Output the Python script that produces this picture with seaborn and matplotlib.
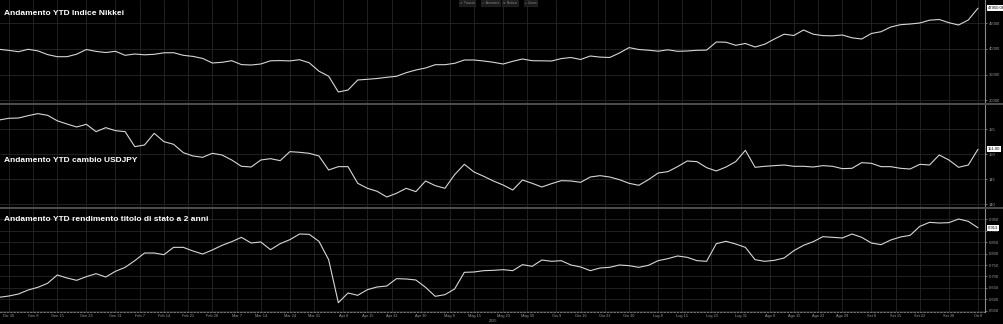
import numpy as np
import pandas as pd
import matplotlib
matplotlib.use("Agg")
import matplotlib.pyplot as plt
import matplotlib.transforms as mtrans
import seaborn as sns

# ---------------- data ----------------
# trading-day calendar of the chart (values sampled every second trading day)
start_date = "2024-12-26"
end_date = "2025-10-08"
closed_days = ["2024-12-31", "2025-01-01"]

nikkei = [39930, 39715, 39462, 39930, 39618, 38896, 38487, 38487, 38974, 39891,
          39520, 39306, 39540, 38760, 39013, 38857, 38955, 39247, 39267, 38760,
          38545, 38155, 37258, 37395, 37707, 36946, 36868, 37063, 37687, 37727,
          37668, 37902, 37297, 35659, 34684, 31603, 31993, 33943, 34080, 34236,
          34470, 34665, 35367, 35893, 36283, 36927, 36927, 37200, 37843, 37843,
          37648, 37395, 37063, 37590, 38038, 37707, 37687, 37648, 38116, 38331,
          37941, 38623, 38409, 38331, 39208, 40261, 39891, 39754, 39559, 39832,
          39540, 39600, 39735, 39774, 41353, 41314, 40710, 41061, 40378, 40924,
          41938, 42874, 42621, 43693, 42874, 42601, 42562, 42718, 42172, 41938,
          43011, 43362, 44278, 44727, 44864, 45059, 45605, 45741, 45117, 44668,
          45644, 47950.08]

usdjpy = [156.86, 157.20, 157.26, 157.73, 158.13, 157.80, 156.70, 156.06, 155.46, 156.00,
          154.53, 155.33, 154.73, 154.53, 151.53, 151.86, 154.20, 152.53, 152.00, 150.33,
          149.66, 149.40, 150.20, 149.86, 148.86, 147.60, 147.46, 148.86, 149.13, 148.73,
          150.53, 150.40, 150.20, 149.66, 146.86, 147.53, 147.53, 144.20, 143.20, 142.60,
          141.46, 142.20, 143.20, 142.53, 144.66, 143.73, 143.20, 145.93, 148.00, 146.46,
          145.60, 144.66, 143.86, 142.86, 144.86, 144.20, 143.46, 144.13, 144.73, 144.66,
          144.40, 145.46, 145.73, 145.46, 144.93, 144.20, 143.80, 144.93, 146.26, 146.53,
          147.53, 148.66, 148.53, 147.33, 146.66, 147.46, 148.53, 150.80, 147.40, 147.60,
          147.73, 147.86, 147.60, 147.60, 147.46, 147.73, 147.60, 147.13, 147.20, 148.33,
          148.20, 147.53, 147.53, 147.20, 147.06, 148.00, 147.86, 149.86, 148.86, 147.40,
          147.86, 151.00]

jgb2y = [0.6085, 0.6143, 0.6231, 0.6406, 0.6523, 0.6698, 0.7063, 0.6931, 0.6829, 0.6990,
         0.7120, 0.6975, 0.7223, 0.7398, 0.7690, 0.8025, 0.8025, 0.7952, 0.8273, 0.8273,
         0.8113, 0.7981, 0.8157, 0.8361, 0.8521, 0.8711, 0.8463, 0.8507, 0.8171, 0.8434,
         0.8609, 0.8857, 0.8842, 0.8536, 0.7733, 0.5850, 0.6275, 0.6173, 0.6421, 0.6538,
         0.6581, 0.6902, 0.6888, 0.6844, 0.6523, 0.6129, 0.6202, 0.6450, 0.7179, 0.7194,
         0.7252, 0.7267, 0.7296, 0.7252, 0.7515, 0.7442, 0.7719, 0.7661, 0.7690, 0.7500,
         0.7413, 0.7252, 0.7369, 0.7398, 0.7500, 0.7471, 0.7398, 0.7486, 0.7690, 0.7777,
         0.7894, 0.7836, 0.7690, 0.7661, 0.8434, 0.8536, 0.8419, 0.8273, 0.7733, 0.7661,
         0.7705, 0.7807, 0.8127, 0.8361, 0.8521, 0.8740, 0.8711, 0.8682, 0.8857, 0.8711,
         0.8463, 0.8390, 0.8594, 0.8726, 0.8798, 0.9192, 0.9367, 0.9338, 0.9353, 0.9513,
         0.9411, 0.913]

tick_dates = ["2024-12-30", "2025-01-08", "2025-01-15", "2025-01-23", "2025-01-31",
              "2025-02-07", "2025-02-14", "2025-02-21", "2025-02-28", "2025-03-07",
              "2025-03-14", "2025-03-24", "2025-03-31", "2025-04-08", "2025-04-15",
              "2025-04-22", "2025-04-30", "2025-05-08", "2025-05-15", "2025-05-23",
              "2025-05-30", "2025-06-09", "2025-06-16", "2025-06-23", "2025-06-30",
              "2025-07-08", "2025-07-15", "2025-07-23", "2025-07-31", "2025-08-08",
              "2025-08-15", "2025-08-22", "2025-08-29", "2025-09-08", "2025-09-15",
              "2025-09-22", "2025-09-30", "2025-10-08"]
tick_labels = ["Dic 30", "Gen 8", "Gen 15", "Gen 23", "Gen 31", "Feb 7", "Feb 14",
               "Feb 21", "Feb 28", "Mar 7", "Mar 14", "Mar 24", "Mar 31", "Apr 8",
               "Apr 15", "Apr 22", "Apr 30", "Mag 8", "Mag 15", "Mag 23", "Mag 30",
               "Giu 9", "Giu 16", "Giu 23", "Giu 30", "Lug 8", "Lug 15", "Lug 23",
               "Lug 31", "Ago 8", "Ago 15", "Ago 22", "Ago 29", "Set 8", "Set 15",
               "Set 22", "Set 30", "Ott 8"]

titles = ["Andamento YTD Indice Nikkei",
          "Andamento YTD cambio USDJPY",
          "Andamento YTD rendimento titolo di stato a 2 anni"]
yticks = [[30000, 35000, 40000, 45000],
          [140, 145, 150, 155],
          [0.55, 0.60, 0.65, 0.70, 0.75, 0.80, 0.85, 0.90, 0.95]]
ytick_labels = [["30000", "35000", "40000", "45000"],
                ["140", "145", "150", "155"],
                ["0.550", "0.600", "0.650", "0.700", "0.750", "0.800", "0.850", "0.900", "0.950"]]
last_labels = ["47950.08", "151.00", "0.913"]
toolbar = ["\u2715 Traccia", "\u2713 Annotare", "\u21c5 Notizie", "\u25cb Zoom"]

# ---------------- build table ----------------
days = pd.bdate_range(start_date, end_date, freq="C", holidays=closed_days)
sample_days = days[::2]
df = pd.DataFrame({"date": sample_days,
                   "pos": days.get_indexer(sample_days),
                   "nikkei": nikkei, "usdjpy": usdjpy, "jgb": jgb2y})
tick_pos = days.get_indexer(pd.to_datetime(tick_dates))

# ---------------- style ----------------
sns.set_theme(style="dark")
plt.rcParams["font.family"] = ["Liberation Sans", "DejaVu Sans"]

W, H = 1004, 324
fig = plt.figure(figsize=(W / 100, H / 100), dpi=100, facecolor="black")

panels = [(0, 103), (105, 207), (209, 312)]   # pixel rows (top, bottom)
ylims = [(29458, 49544), (139.46, 159.86), (0.5443, 0.9951)]
cols = ["nikkei", "usdjpy", "jgb"]
title_y = [13.5, 160, 219.7]
line_col = "#d6d6d6"
grid_col = "#262626"
tick_col = "#9c9c9c"

axes = []
for i, (t, b) in enumerate(panels):
    ax = fig.add_axes([0, 1 - b / H, 985 / W, (b - t) / H])
    ax.set_facecolor("black")
    sns.lineplot(data=df, x="pos", y=cols[i], ax=ax, color=line_col, linewidth=0.8)
    ax.set_xlim(0.18, 203.45)
    ax.set_ylim(*ylims[i])
    ax.set_xlabel("")
    ax.set_ylabel("")
    ax.yaxis.tick_right()
    ax.set_yticks(yticks[i])
    ax.set_yticklabels(ytick_labels[i])
    ax.set_xticks(tick_pos)
    ax.grid(True, color=grid_col, linewidth=0.6)
    ax.tick_params(axis="y", colors=tick_col, labelsize=3, length=1.5, width=0.5,
                   pad=1, direction="out", right=True, left=False)
    for s in ["top", "left", "bottom"]:
        ax.spines[s].set_visible(False)
    ax.spines["right"].set_color("#8a8a8a")
    ax.spines["right"].set_linewidth(0.8)
    if i < 2:
        ax.tick_params(axis="x", length=0, labelbottom=False)
    else:
        ax.set_xticklabels(tick_labels)
        ax.tick_params(axis="x", length=0, labelsize=2.8, labelcolor=tick_col, pad=1.6)
        ax.spines["bottom"].set_visible(True)
        ax.spines["bottom"].set_color("#8a8a8a")
        ax.spines["bottom"].set_linewidth(0.6)
        ax.spines["bottom"].set_linestyle((0, (2, 2)))
    # last-value box on the axis
    tr = mtrans.blended_transform_factory(ax.transAxes, ax.transData)
    ax.text(1.003, df[cols[i]].iloc[-1], last_labels[i], transform=tr, fontsize=3,
            color="black", va="center", ha="left",
            bbox=dict(boxstyle="square,pad=0.2", fc="white", ec="none"))
    fig.text(4 / W, 1 - title_y[i] / H, titles[i], color="white", fontsize=6,
             fontweight="bold", va="center", ha="left")
    axes.append(ax)

# separators between panels
for y in [104, 208]:
    fig.add_artist(plt.Line2D([0, 1], [1 - y / H] * 2, transform=fig.transFigure,
                              color="#4e4e4e", linewidth=1.4))

# year label
fig.text(493 / W, 1 - 321 / H, "2025", color=tick_col, fontsize=2.8, ha="center", va="center")

# toolbar
for x, lab in zip([460, 482, 503, 525], toolbar):
    fig.text(x / W, 1 - 3 / H, lab, color="#8c8c8c", fontsize=2.4, ha="left", va="center",
             bbox=dict(boxstyle="square,pad=0.25", fc="#1a1a1a", ec="#303030", lw=0.4))

fig.savefig("out.png", dpi=100, facecolor="black")
